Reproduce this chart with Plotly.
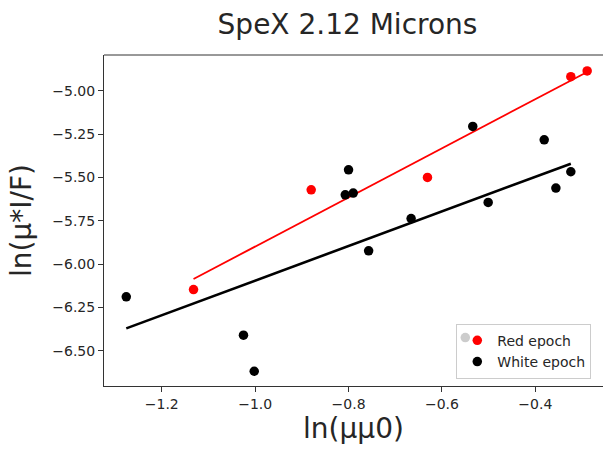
import numpy as np
import plotly.graph_objects as go

# ---- data ----
red_x = [-1.132, -0.880, -0.631, -0.324, -0.289]
red_y = [-6.146, -5.571, -5.500, -4.919, -4.886]

white_x = [-1.276, -1.025, -1.002, -0.807, -0.800, -0.790, -0.757,
           -0.666, -0.550, -0.534, -0.501, -0.381, -0.356, -0.324]
white_y = [-6.188, -6.409, -6.617, -5.600, -5.456, -5.590, -5.923,
           -5.737, -6.423, -5.206, -5.644, -5.283, -5.561, -5.467]

x_ticks = [-1.2, -1.0, -0.8, -0.6, -0.4]
y_ticks = [-6.5, -6.25, -6.0, -5.75, -5.5, -5.25, -5.0]

title_text = "SpeX 2.12 Microns"
x_label = "ln(μμ0)"
y_label = "ln(μ*I/F)"
red_name = "Red epoch"
white_name = "White epoch"

# ---- linear fits ----
def fit_line(xs, ys):
    xs = np.asarray(xs)
    ys = np.asarray(ys)
    m, b = np.polyfit(xs, ys, 1)
    order = np.argsort(xs)
    xx = xs[order]
    return xx, m * xx + b

rfx, rfy = fit_line(red_x, red_y)
wfx, wfy = fit_line(white_x, white_y)

FONT = "DejaVu Sans"

fig = go.Figure()
fig.add_trace(go.Scatter(x=rfx, y=rfy, mode="lines",
                         line=dict(color="#ff0000", width=1.8),
                         showlegend=False, hoverinfo="skip"))
fig.add_trace(go.Scatter(x=wfx, y=wfy, mode="lines",
                         line=dict(color="#000000", width=2.6),
                         showlegend=False, hoverinfo="skip"))
fig.add_trace(go.Scatter(x=red_x, y=red_y, mode="markers", name=red_name,
                         marker=dict(color="#ff0000", size=9.5, line=dict(width=0))))
fig.add_trace(go.Scatter(x=white_x, y=white_y, mode="markers", name=white_name,
                         marker=dict(color="#000000", size=9.5, line=dict(width=0))))

fig.update_layout(
    width=603, height=449,
    margin=dict(l=104, r=0, t=55, b=63),
    paper_bgcolor="white", plot_bgcolor="white",
    font=dict(family=FONT, color="#262626"),
    title=dict(text=title_text, font=dict(size=28, family=FONT, color="#262626"),
               x=347.5 / 603, xref="container", xanchor="center",
               y=1 - 24 / 449, yref="container", yanchor="middle"),
    legend=dict(x=0.706, xanchor="left", y=0.022, yanchor="bottom",
                bgcolor="rgba(255,255,255,0.8)", bordercolor="#cccccc", borderwidth=1,
                font=dict(size=14, family=FONT, color="#262626"),
                itemwidth=30),
    xaxis=dict(range=[-1.3237, -0.2551], tickvals=x_ticks, tickformat=".1f",
               showgrid=False, zeroline=False,
               showline=True, linecolor="#333333", linewidth=1, mirror=False,
               ticks="outside", ticklen=5, tickcolor="#333333",
               tickfont=dict(size=14, family=FONT, color="#262626"),
               title=dict(text=x_label, font=dict(size=28, family=FONT, color="#262626"),
                          standoff=4)),
    yaxis=dict(range=[-6.702, -4.794], tickvals=y_ticks, tickformat=".2f",
               showgrid=False, zeroline=False,
               showline=True, linecolor="#333333", linewidth=1, mirror=False,
               ticks="outside", ticklen=5, tickcolor="#333333",
               tickfont=dict(size=14, family=FONT, color="#262626"),
               title=dict(text=y_label, font=dict(size=28, family=FONT, color="#262626"),
                          standoff=12)),
)
# top spine
fig.add_shape(type="line", xref="paper", yref="paper", x0=0, x1=1, y0=1, y1=1,
              line=dict(color="#333333", width=1))

fig.write_html("out.html")
